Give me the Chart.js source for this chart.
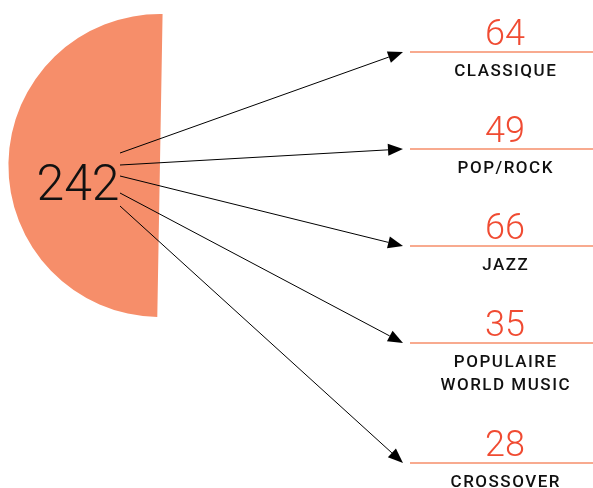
<!DOCTYPE html>
<html>
<head>
<meta charset="utf-8">
<script src="https://cdn.jsdelivr.net/npm/chart.js@4.4.1/dist/chart.umd.min.js"></script>
<style>
  html, body { margin: 0; padding: 0; background: #fff; }
  #chart { display: block; }
</style>
</head>
<body>
<canvas id="chart" width="593" height="488"></canvas>
<script>
// genres and number of works per genre
const categories = [['CLASSIQUE'], ['POP/ROCK'], ['JAZZ'], ['POPULAIRE', 'WORLD MUSIC'], ['CROSSOVER']];
const values = [64, 49, 66, 35, 28];

const total = values.reduce((a, b) => a + b, 0);

// y of each label row (separator line) and where each arrow leaves the disc
const rowY = [52, 149, 246, 343, 463];
const arrowStartY = [153, 165, 176, 193, 206];

const SALMON = '#F68E6A';
const RED = '#F04B32';

function drawArrow(ctx, x1, y1, x2, y2) {
    const ang = Math.atan2(y2 - y1, x2 - x1);
    const len = 15, half = 6;
    const bx = x2 - len * Math.cos(ang);
    const by = y2 - len * Math.sin(ang);
    ctx.beginPath();
    ctx.moveTo(x1, y1);
    ctx.lineTo(bx, by);
    ctx.stroke();
    ctx.beginPath();
    ctx.moveTo(x2, y2);
    ctx.lineTo(bx - half * Math.sin(ang), by + half * Math.cos(ang));
    ctx.lineTo(bx + half * Math.sin(ang), by - half * Math.cos(ang));
    ctx.closePath();
    ctx.fill();
}

const annotations = {
    id: 'annotations',
    afterDraw(chart) {
        const ctx = chart.ctx;
        ctx.save();

        // total in the middle of the half disc
        ctx.fillStyle = '#111';
        ctx.font = '300 50px Roboto, sans-serif';
        ctx.textAlign = 'center';
        ctx.textBaseline = 'alphabetic';
        ctx.fillText(String(total), 78, 200);

        // arrows
        ctx.strokeStyle = '#000';
        ctx.fillStyle = '#000';
        ctx.lineWidth = 1;
        values.forEach((v, i) => {
            drawArrow(ctx, 120, arrowStartY[i], 403, rowY[i]);
        });

        // values, separators, labels
        const cx = 505;
        values.forEach((v, i) => {
            const y = rowY[i];
            ctx.strokeStyle = SALMON;
            ctx.lineWidth = 1.5;
            ctx.beginPath();
            ctx.moveTo(410, y);
            ctx.lineTo(593, y);
            ctx.stroke();

            ctx.fillStyle = RED;
            ctx.font = '300 36px Roboto, sans-serif';
            ctx.fillText(String(v), cx, y - 7);

            ctx.fillStyle = '#111';
            ctx.font = '500 17px Roboto, sans-serif';
            ctx.letterSpacing = '1.5px';
            categories[i].forEach((line, k) => {
                ctx.fillText(line, cx + 0.75, y + 24 + k * 23);
            });
            ctx.letterSpacing = '0px';
        });

        ctx.restore();
    }
};

new Chart(document.getElementById('chart'), {
    type: 'pie',
    data: {
        labels: ['Total'],
        datasets: [{
            data: [total],
            backgroundColor: SALMON,
            borderWidth: 0
        }]
    },
    options: {
        responsive: false,
        animation: false,
        rotation: 181,
        circumference: 180,
        layout: { padding: { left: 8, top: 14, right: 430, bottom: 171 } },
        plugins: { legend: { display: false }, tooltip: { enabled: false } }
    },
    plugins: [annotations]
});
</script>
</body>
</html>
